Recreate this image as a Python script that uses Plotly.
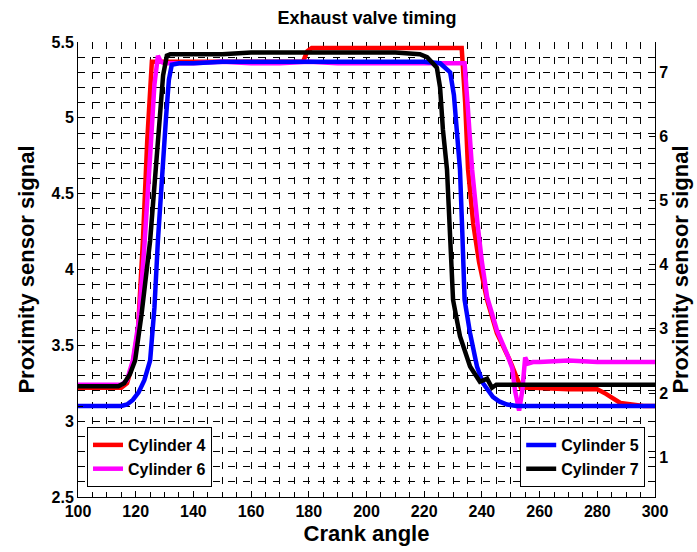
import plotly.graph_objects as go

# ---- data (crank angle, proximity sensor signal) ----
cyl4_x = [100, 105, 110, 115, 117, 119, 120.8, 122.5, 124, 125, 125.6, 130, 140, 150, 160, 170, 178,
          179.5, 181, 190, 200, 210, 220, 230, 233, 234.2, 235.2, 237, 239, 241.8, 245.2, 249.7, 252,
          253.5, 258, 265, 270, 275, 280, 283, 286, 288, 292, 296, 300]
cyl4_y = [3.22, 3.22, 3.22, 3.22, 3.25, 3.38, 3.60, 4.19, 4.85, 5.25, 5.37, 5.37, 5.37, 5.37, 5.37, 5.37, 5.37,
          5.44, 5.46, 5.46, 5.46, 5.46, 5.46, 5.46, 5.46, 5.10, 4.66, 4.30, 4.05, 3.80, 3.58, 3.40, 3.29,
          3.22, 3.22, 3.21, 3.21, 3.21, 3.21, 3.18, 3.14, 3.12, 3.11, 3.10, 3.10]

cyl6_x = [100, 105, 110, 115, 117, 119, 121, 123, 125, 126.5, 127.7, 128.7, 130, 140, 150, 160, 170, 180,
          190, 200, 210, 220, 230, 234, 235, 236.6, 238.5, 240, 241.8, 245.2, 249, 250.5, 251.5, 252.9,
          254, 255, 256, 257.7, 260, 270, 280, 290, 300]
cyl6_y = [3.24, 3.24, 3.24, 3.24, 3.27, 3.40, 3.65, 4.15, 4.75, 5.22, 5.41, 5.37, 5.36, 5.36, 5.37, 5.36, 5.36, 5.37,
          5.36, 5.36, 5.36, 5.36, 5.36, 5.36, 5.10, 4.66, 4.30, 4.05, 3.82, 3.60, 3.43, 3.35, 3.20, 3.07,
          3.20, 3.42, 3.38, 3.39, 3.39, 3.40, 3.39, 3.39, 3.39]

cyl5_x = [100, 105, 110, 115, 117, 119, 121, 123, 125, 126.5, 127.7, 129, 130.5, 131.5, 132.5, 135, 140, 150,
          160, 170, 180, 190, 200, 210, 220, 225.5, 227.5, 229, 230.3, 231.4, 232.4, 233.2, 234, 235.9,
          238.3, 240.4, 243.8, 246, 248.7, 252, 260, 270, 280, 290, 300]
cyl5_y = [3.10, 3.10, 3.10, 3.10, 3.11, 3.14, 3.19, 3.27, 3.40, 3.75, 4.19, 4.60, 5.00, 5.25, 5.35, 5.36, 5.36, 5.37,
          5.37, 5.37, 5.37, 5.37, 5.37, 5.37, 5.37, 5.36, 5.33, 5.30, 5.15, 4.92, 4.66, 4.25, 3.80, 3.58,
          3.36, 3.25, 3.16, 3.13, 3.11, 3.10, 3.10, 3.10, 3.10, 3.10, 3.10]

cyl7_x = [100, 105, 110, 114, 116, 118, 119.8, 122, 125, 127, 128.4, 129.5, 130.8, 132, 140, 150, 160, 170,
          180, 190, 200, 210, 218.5, 221, 222.5, 224.4, 225.5, 226.5, 227.9, 229, 230, 232.4, 235.9, 239.3,
          241.8, 243.5, 245, 250, 260, 270, 280, 290, 300]
cyl7_y = [3.23, 3.23, 3.23, 3.23, 3.25, 3.31, 3.40, 3.70, 4.19, 4.65, 5.00, 5.28, 5.41, 5.42, 5.42, 5.42, 5.43, 5.43,
          5.43, 5.43, 5.43, 5.43, 5.42, 5.40, 5.37, 5.33, 5.20, 4.92, 4.66, 4.25, 3.80, 3.56, 3.36, 3.26,
          3.28, 3.22, 3.24, 3.24, 3.24, 3.24, 3.24, 3.24, 3.24]

x_ticks = [100, 120, 140, 160, 180, 200, 220, 240, 260, 280, 300]
left_ticks = [2.5, 3, 3.5, 4, 4.5, 5, 5.5]
right_ticks = [1, 2, 3, 4, 5, 6, 7]

FONT = "Arial, 'Liberation Sans', sans-serif"
GRID = "#000000"
DASH = "7px,8px"
LW = 4.5


def b(v):
    return "<b>%s</b>" % v


fig = go.Figure()
fig.add_trace(go.Scatter(x=cyl4_x, y=cyl4_y, mode="lines", name=b("Cylinder 4"),
                         line=dict(color="#ff0000", width=LW), legend="legend"))
fig.add_trace(go.Scatter(x=cyl6_x, y=cyl6_y, mode="lines", name=b("Cylinder 6"),
                         line=dict(color="#ff00ff", width=LW), legend="legend"))
fig.add_trace(go.Scatter(x=cyl5_x, y=cyl5_y, mode="lines", name=b("Cylinder 5"),
                         line=dict(color="#0000ff", width=LW), legend="legend2"))
fig.add_trace(go.Scatter(x=cyl7_x, y=cyl7_y, mode="lines", name=b("Cylinder 7"),
                         line=dict(color="#000000", width=LW), legend="legend2"))
fig.add_trace(go.Scatter(x=[None], y=[None], yaxis="y2", showlegend=False, hoverinfo="skip"))

legend_common = dict(yanchor="bottom", y=0.022, bgcolor="white", bordercolor="black", borderwidth=1,
                     font=dict(family=FONT, size=16, color="black"),
                     itemwidth=30, tracegroupgap=0)

tickfont = dict(family=FONT, size=16, color="black")
titlefont = dict(family=FONT, size=22, color="black")

fig.update_layout(
    width=697, height=552,
    margin=dict(l=78, r=42, t=42, b=55, autoexpand=False),
    paper_bgcolor="white", plot_bgcolor="white",
    title=dict(text=b("Exhaust valve timing"), x=0.5265, xanchor="center", y=0.968, yanchor="middle",
               font=dict(family=FONT, size=18, color="black")),
    xaxis=dict(range=[100, 300], tickvals=x_ticks, ticktext=[b(v) for v in x_ticks],
               ticks="inside", ticklen=6, tickcolor="black",
               showline=True, linecolor="black", linewidth=1, mirror=False,
               showgrid=True, gridcolor=GRID, griddash=DASH, gridwidth=1, zeroline=False,
               tickfont=tickfont,
               title=dict(text=b("Crank angle"), standoff=6, font=titlefont),
               minor=dict(dtick=5, tick0=100, ticks="inside", ticklen=5, tickcolor="black",
                          showgrid=True, gridcolor=GRID, griddash=DASH, gridwidth=1)),
    yaxis=dict(range=[2.5, 5.5], tickvals=left_ticks, ticktext=[b(v) for v in left_ticks],
               ticks="inside", ticklen=6, tickcolor="black",
               showline=True, linecolor="black", linewidth=1, mirror=False,
               showgrid=True, gridcolor=GRID, griddash=DASH, gridwidth=1, zeroline=False,
               tickfont=tickfont,
               title=dict(text=b("Proximity sensor signal"), standoff=10, font=titlefont),
               minor=dict(dtick=0.1, tick0=2.5, ticks="inside", ticklen=5, tickcolor="black",
                          showgrid=True, gridcolor=GRID, griddash=DASH, gridwidth=1)),
    yaxis2=dict(range=[0.38, 7.47], tickvals=right_ticks, ticktext=[b(v) for v in right_ticks],
                overlaying="y", side="right",
                ticks="inside", ticklen=6, tickcolor="black",
                showline=True, linecolor="black", linewidth=1, showgrid=False, zeroline=False,
                tickfont=tickfont,
                title=dict(text=b("Proximity sensor signal"), standoff=4, font=titlefont)),
    legend=dict(x=0.0156, xanchor="left", **legend_common),
    legend2=dict(x=0.983, xanchor="right", **legend_common),
    showlegend=True,
)

fig.write_html("out.html")
